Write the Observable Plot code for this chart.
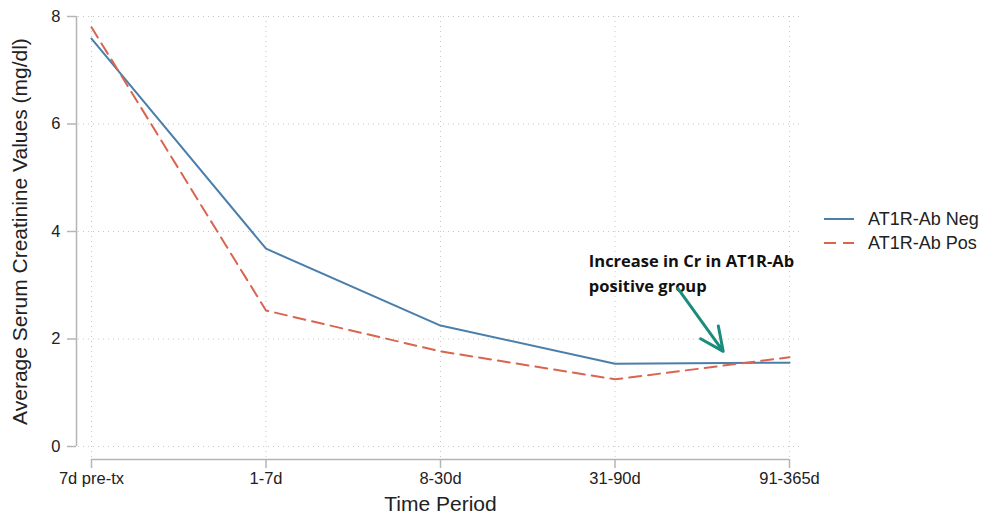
<!DOCTYPE html>
<html>
<head>
<meta charset="utf-8">
<script src="https://cdn.jsdelivr.net/npm/d3@7"></script>
<script src="https://cdn.jsdelivr.net/npm/@observablehq/plot@0.6"></script>
<style>
  html, body { margin: 0; padding: 0; background: #fff; }
  #wrap { position: relative; width: 991px; height: 514px; font-family: "Liberation Sans", Arial, sans-serif; }
  #legend { position: absolute; left: 824px; top: 207px; font-size: 18px; color: #222; }
  #legend .row { display: flex; align-items: center; height: 24px; }
  #legend svg { margin-right: 14px; }
</style>
</head>
<body>
<div id="wrap">
  <div id="chart"></div>
  <div id="legend"></div>
</div>
<script>
const periods = ["7d pre-tx", "1-7d", "8-30d", "31-90d", "91-365d"];
const negValues = [7.59, 3.68, 2.25, 1.54, 1.56];
const posValues = [7.80, 2.53, 1.77, 1.25, 1.66];
const seriesNames = ["AT1R-Ab Neg", "AT1R-Ab Pos"];
const yTicks = [0, 2, 4, 6, 8];
const annotationText = ["Increase in Cr in AT1R-Ab", "positive group"];
const annotationAnchor = {x: 2.85, y: 3.67};
const arrowFrom = {x: 3.36, y: 2.94};
const arrowTo = {x: 3.62, y: 1.77};

const blue = "#4a7eab";
const red = "#d9644f";
const teal = "#1a8c7c";
const axisGrey = "#b5b5b5";
const gridGrey = "#c8c8c8";

const idx = periods.map((_, i) => i);
const data = [
  ...idx.map(i => ({i, v: negValues[i], s: seriesNames[0]})),
  ...idx.map(i => ({i, v: posValues[i], s: seriesNames[1]}))
];

const chart = Plot.plot({
  width: 991,
  height: 514,
  marginLeft: 91,
  marginRight: 202,
  marginTop: 16,
  marginBottom: 68,
  style: {fontFamily: "Liberation Sans, Arial, sans-serif", background: "#fff", fontSize: "16.5px"},
  x: {type: "linear", domain: [0, periods.length - 1], axis: null},
  y: {domain: [0, 8], axis: null},
  marks: [
    Plot.ruleY(yTicks, {stroke: gridGrey, strokeDasharray: "1,4", strokeWidth: 1, insetLeft: -13, insetRight: -14}),
    Plot.ruleX(idx, {x: d => d, stroke: gridGrey, strokeDasharray: "1,4", strokeWidth: 1, insetBottom: -12}),
    // axis lines
    Plot.ruleX([0], {y1: 0, y2: 8, dx: -15, stroke: axisGrey, strokeWidth: 1.5}),
    Plot.ruleY([0], {x1: 0, x2: periods.length - 1, dy: 13, stroke: axisGrey, strokeWidth: 1.5}),
    Plot.axisY(yTicks, {anchor: "left", dx: -15, tickSize: 9, tickPadding: 7, stroke: axisGrey, strokeWidth: 1.5, fill: "#222", tickFormat: d3.format("d"), label: null}),
    Plot.axisX(idx, {anchor: "bottom", dy: 13, tickSize: 9, tickPadding: 4, stroke: axisGrey, strokeWidth: 1.5, tickFormat: i => periods[i], label: null, fill: "#222"}),
    Plot.line(data.filter(d => d.s === seriesNames[0]), {x: "i", y: "v", stroke: blue, strokeWidth: 2}),
    Plot.line(data.filter(d => d.s === seriesNames[1]), {x: "i", y: "v", stroke: red, strokeWidth: 2, strokeDasharray: "12,7"}),
    Plot.text([annotationText.join("\n")], {x: annotationAnchor.x, y: annotationAnchor.y, text: d => d, textAnchor: "start", lineAnchor: "top", lineHeight: 1.5, fontSize: 16.5, fontWeight: "bold", fontFamily: "Open Sans, sans-serif", fill: "#111"}),
    Plot.arrow([{}], {x1: arrowFrom.x, y1: arrowFrom.y, x2: arrowTo.x, y2: arrowTo.y, stroke: teal, strokeWidth: 3, headLength: 14, headAngle: 50}),
    Plot.text(["Time Period"], {frameAnchor: "bottom", x: 2, dy: 64, text: d => d, fontSize: 21, fill: "#222", lineAnchor: "bottom"}),
    Plot.text(["Average Serum Creatinine Values (mg/dl)"], {frameAnchor: "left", textAnchor: "middle", dx: -71, dy: 0, rotate: -90, text: d => d, fontSize: 21, fill: "#222"})
  ]
});
document.getElementById("chart").appendChild(chart);

const legend = document.getElementById("legend");
seriesNames.forEach((name, k) => {
  const row = document.createElement("div");
  row.className = "row";
  const dash = k === 1 ? 'stroke-dasharray="12,7"' : "";
  row.innerHTML = `<svg width="30" height="10"><line x1="0" y1="5" x2="30" y2="5" stroke="${k === 0 ? blue : red}" stroke-width="2" ${dash}/></svg><span>${name}</span>`;
  legend.appendChild(row);
});
</script>
</body>
</html>
